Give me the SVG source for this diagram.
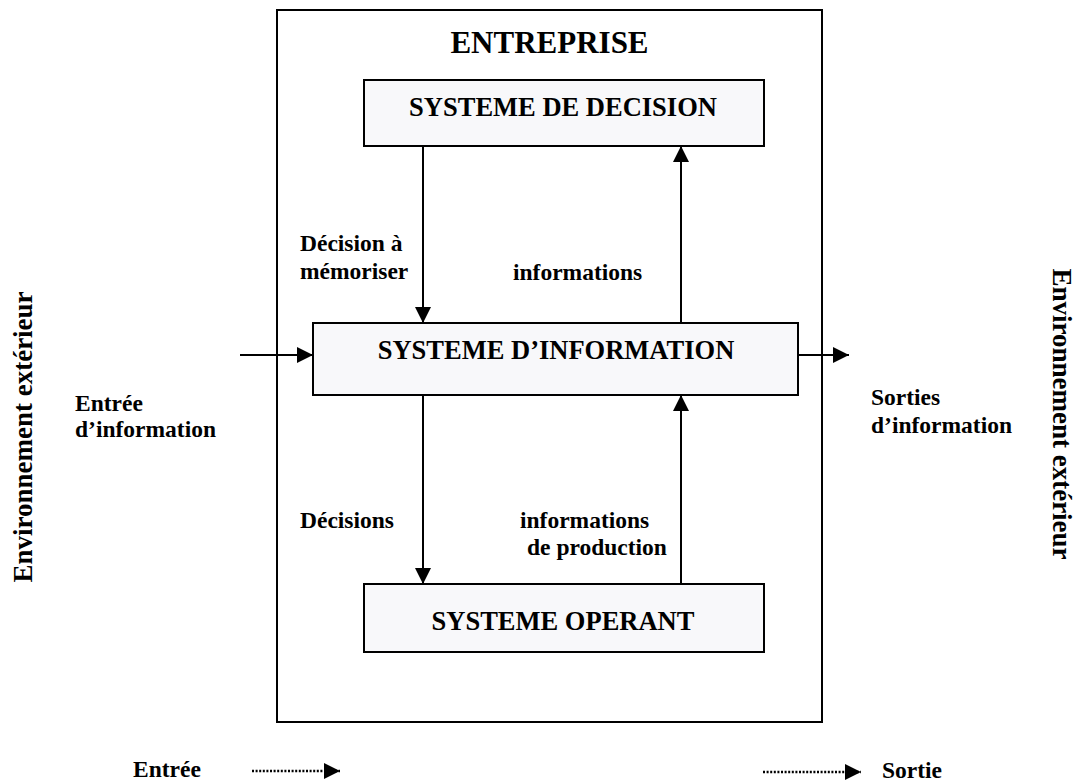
<svg xmlns="http://www.w3.org/2000/svg" width="1075" height="783" viewBox="0 0 1075 783">
  <defs>
    <marker id="arrow" markerUnits="userSpaceOnUse" markerWidth="16" markerHeight="16" viewBox="0 0 16 16" refX="16" refY="8" orient="auto">
      <path d="M0,0 L16,8 L0,16 Z" fill="#000"/>
    </marker>
    <style>
      text { font-family: "Liberation Serif", "Times New Roman", serif; font-weight: bold; fill: #000; }
      .title { font-size: 31px; text-anchor: middle; }
      .sys { font-size: 26.5px; text-anchor: middle; }
      .lbl { font-size: 23.5px; }
      .env { font-size: 27px; text-anchor: middle; }
      .box { fill: #f8f8fa; stroke: #000; stroke-width: 2; }
      .frame { fill: #fff; stroke: #000; stroke-width: 2; }
      .link { fill: none; stroke: #000; stroke-width: 2; marker-end: url(#arrow); }
      .dotted { fill: none; stroke: #000; stroke-width: 2.5; stroke-dasharray: 2 1.6; marker-end: url(#arrow); }
    </style>
  </defs>
  <rect width="1075" height="783" fill="#fff"/>

  <!-- enterprise frame -->
  <g id="entreprise">
    <rect class="frame" x="277" y="10" width="545" height="712"/>
    <text class="title" x="549.5" y="53">ENTREPRISE</text>
  </g>

  <!-- connectors -->
  <g id="connectors">
    <line class="link" x1="423" y1="146" x2="423" y2="323"/>
    <line class="link" x1="681" y1="323" x2="681" y2="146"/>
    <line class="link" x1="423" y1="395" x2="423" y2="584"/>
    <line class="link" x1="681" y1="584" x2="681" y2="395"/>
    <line class="link" x1="240" y1="355" x2="313" y2="355"/>
    <line class="link" x1="798" y1="355" x2="849" y2="355"/>
  </g>

  <g id="systeme-decision">
    <rect class="box" x="364" y="80" width="400" height="66"/>
    <text class="sys" x="563" y="116">SYSTEME DE DECISION</text>
  </g>

  <g id="systeme-information">
    <rect class="box" x="313" y="323" width="485" height="72"/>
    <text class="sys" x="556" y="359">SYSTEME D’INFORMATION</text>
  </g>

  <g id="systeme-operant">
    <rect class="box" x="364" y="584" width="400" height="68"/>
    <text class="sys" x="563" y="630">SYSTEME OPERANT</text>
  </g>

  <!-- flow labels -->
  <g id="labels">
    <text class="lbl" x="300" y="251">Décision à</text>
    <text class="lbl" x="300" y="279">mémoriser</text>
    <text class="lbl" x="513" y="280">informations</text>
    <text class="lbl" x="300" y="528">Décisions</text>
    <text class="lbl" x="520" y="528">informations</text>
    <text class="lbl" x="527" y="555">de production</text>
    <text class="lbl" x="75" y="411">Entrée</text>
    <text class="lbl" x="75" y="437">d’information</text>
    <text class="lbl" x="871" y="405">Sorties</text>
    <text class="lbl" x="871" y="433">d’information</text>
  </g>

  <!-- outside environment, both sides -->
  <g id="environnement">
    <text class="env" transform="translate(32,437) rotate(-90)">Environnement extérieur</text>
    <text class="env" transform="translate(1053,414) rotate(90)">Environnement extérieur</text>
  </g>

  <!-- legend -->
  <g id="legende">
    <text class="lbl" x="133" y="777">Entrée</text>
    <line class="dotted" x1="252" y1="771" x2="340" y2="771"/>
    <line class="dotted" x1="763" y1="772" x2="861" y2="772"/>
    <text class="lbl" x="882" y="778">Sortie</text>
  </g>
</svg>
